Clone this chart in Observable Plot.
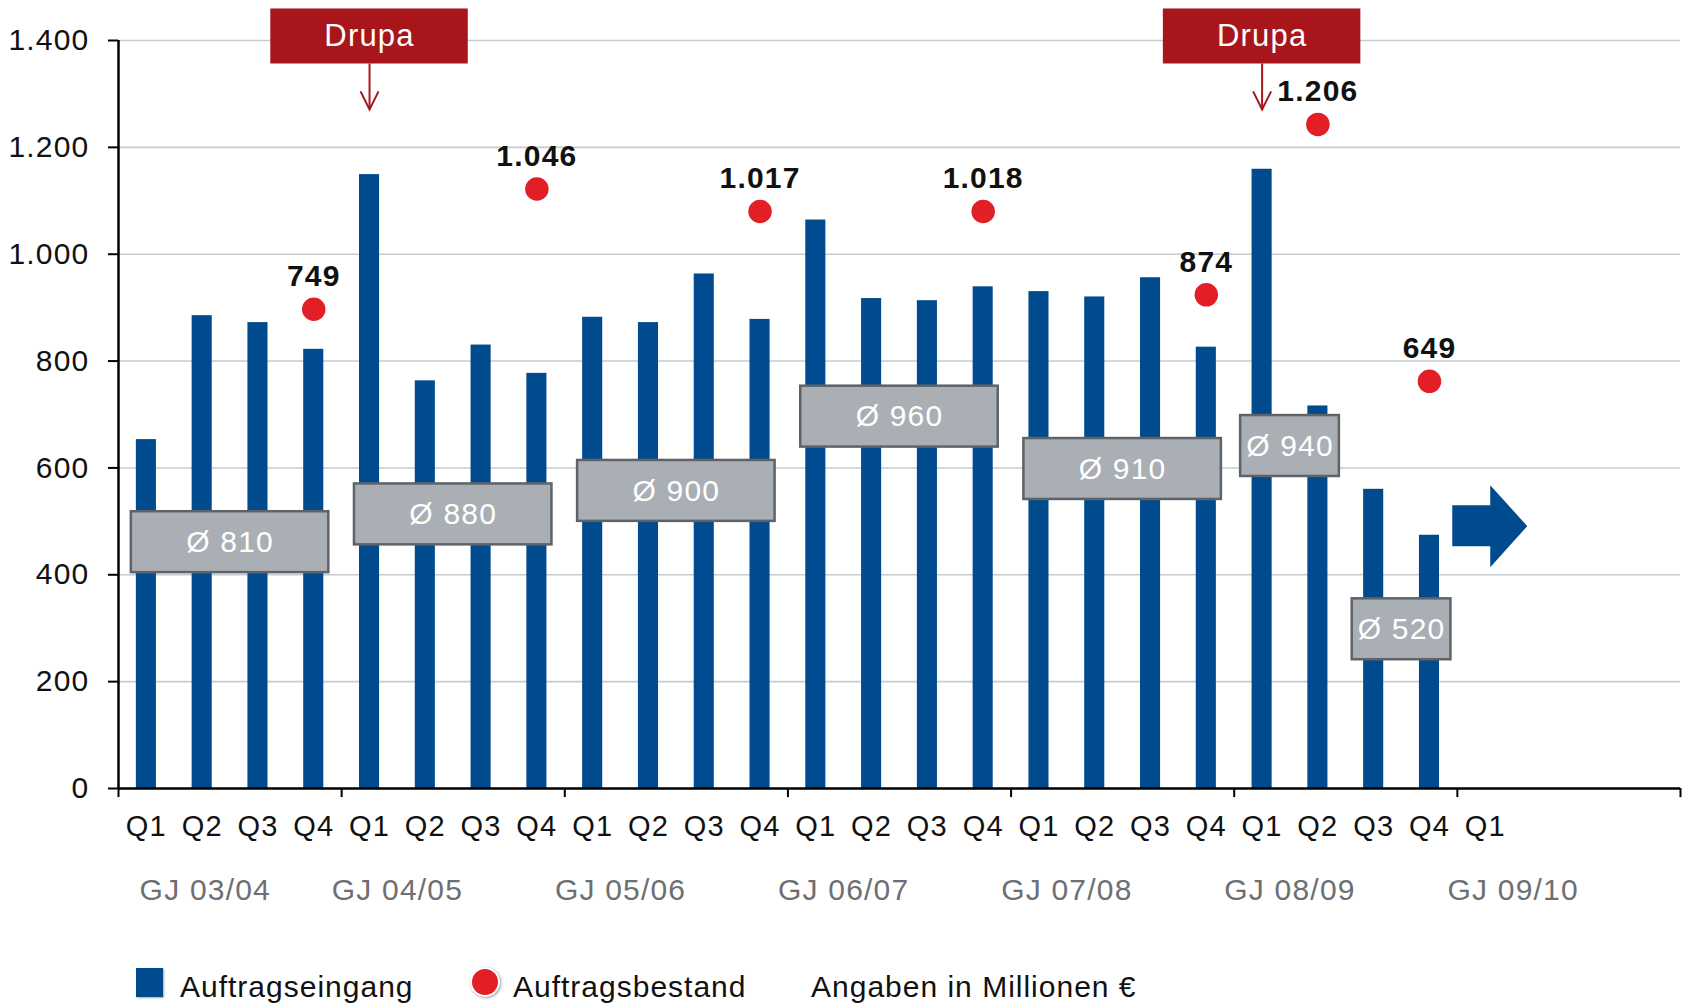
<!DOCTYPE html>
<html>
<head>
<meta charset="utf-8">
<script src="https://cdn.jsdelivr.net/npm/d3@7"></script>
<script src="https://cdn.jsdelivr.net/npm/@observablehq/plot@0.6"></script>
<style>
html, body { margin: 0; padding: 0; background: #fff; }
#wrap { position: relative; width: 1685px; height: 1003px; overflow: hidden; font-family: "Liberation Sans", Arial, sans-serif; }
#legend { position: absolute; left: 0; top: 940px; width: 1685px; height: 63px; }
.lg { position: absolute; top: 29px; font-size: 30px; line-height: 36px; color: #111; white-space: nowrap; letter-spacing: 1px; }
.sw { position: absolute; }
#chart svg text { letter-spacing: 1.2px; }
</style>
</head>
<body>
<div id="wrap">
  <div id="chart"></div>
  <div id="legend">
    <div class="sw" style="left:136px;top:28px;width:27px;height:29px;background:#004b8d;box-shadow:1px 1px 2px rgba(0,0,0,0.35);"></div>
    <div class="lg" style="left:180px;">Auftragseingang</div>
    <div class="sw" style="left:470px;top:27px;width:26px;height:26px;border-radius:50%;background:#e21f26;border:2px solid #fff;box-shadow:1px 1px 3px rgba(0,0,0,0.4);"></div>
    <div class="lg" style="left:513px;">Auftragsbestand</div>
    <div class="lg" style="left:811px;">Angaben in Millionen €</div>
  </div>
</div>
<script>
// ---------- Daten ----------
const quartale = ["Q1", "Q2", "Q3", "Q4"];
const geschaeftsjahre = ["GJ 03/04", "GJ 04/05", "GJ 05/06", "GJ 06/07", "GJ 07/08", "GJ 08/09", "GJ 09/10"];
// Auftragseingang je Quartal (GJ 03/04 Q1 ... GJ 08/09 Q4), Mio €
const auftragseingang = [653, 885, 872, 822, 1149, 763, 830, 777, 882, 872, 963, 878, 1064, 917, 913, 939, 930, 920, 956, 826, 1159, 716, 560, 474];
// Auftragsbestand: Quartalsindex, ausgewiesener Wert, im Bild dargestellte Höhe
const bestandQuartal = [3, 7, 11, 15, 19, 21, 23];
const bestandWert = [749, 1046, 1017, 1018, 874, 1206, 649];
const bestandHoehe = [897, 1122, 1080, 1080, 924, 1243, 762];
// Durchschnittswerte je Zeitraum (Quartalsindex von/bis) und dargestellte Höhe
const durchschnitt = [810, 880, 900, 960, 910, 940, 520];
const durchschnittVon = [0, 4, 8, 12, 16, 20, 22];
const durchschnittBis = [4, 8, 12, 16, 20, 22, 24];
const durchschnittHoehe = [461, 513, 557, 696, 598, 641, 298];
// Drupa-Messen (Quartalsindex)
const drupaQuartal = [4, 20];
const drupaText = "Drupa";
// Trendpfeil (Quartalsindex, Höhe)
const trendQuartal = [24];
const trendHoehe = [491];
// Achsen
const yTicks = [0, 200, 400, 600, 800, 1000, 1200, 1400];
const anzahlQuartale = 28;
const anzahlLabels = 25;

// ---------- Layout ----------
const BLUE = "#004b8d", RED = "#e21f26", DRUPA = "#a8161b";
const BOX_FILL = "#a9afb4", BOX_STROKE = "#5f6368", GRID = "#c6cbd0";
const drupaY1 = 1356, drupaY2 = 1459, drupaPfeilEnde = 1271;
const boxHalb = 57;

const fmt = d3.formatLocale({decimal: ",", thousands: ".", grouping: [3], currency: ["", " €"]}).format(",");

const bars = auftragseingang.map((v, i) => ({i, v}));
const qLabels = d3.range(anzahlLabels).map(i => ({i, q: quartale[i % 4]}));
const gj = geschaeftsjahre.map((g, k) => ({g, k}));
const bestand = bestandWert.map((w, k) => ({i: bestandQuartal[k], w, h: bestandHoehe[k]}));
const avg = durchschnitt.map((a, k) => ({a, von: durchschnittVon[k], bis: durchschnittBis[k], h: durchschnittHoehe[k]}));
const trend = trendQuartal.map((q, k) => ({q, h: trendHoehe[k]}));

const vSymbol = { draw(ctx) { ctx.moveTo(-9, -18); ctx.lineTo(0, 0); ctx.lineTo(9, -18); } };
const trendSymbol = { draw(ctx) {
  ctx.moveTo(-33, -21); ctx.lineTo(5, -21); ctx.lineTo(5, -41); ctx.lineTo(42, 0);
  ctx.lineTo(5, 41); ctx.lineTo(5, 20); ctx.lineTo(-33, 20); ctx.closePath();
} };

const chart = Plot.plot({
  width: 1685,
  height: 940,
  marginLeft: 118,
  marginRight: 5,
  marginTop: 40,
  marginBottom: 152,
  x: {domain: [0, anzahlQuartale], axis: null},
  y: {domain: [0, 1400], axis: null},
  style: {fontFamily: '"Liberation Sans", Arial, sans-serif', background: "white", overflow: "visible"},
  marks: [
    Plot.ruleY(yTicks.filter(d => d > 0), {stroke: GRID, strokeWidth: 1.6}),
    Plot.rectY(bars, {x1: d => d.i + 0.32, x2: d => d.i + 0.68, y1: 0, y2: "v", fill: BLUE, ariaLabel: "balken"}),
    // Achsen
    Plot.ruleY([0], {stroke: "#000", strokeWidth: 2.5}),
    Plot.ruleX([0], {y1: 0, y2: 1400, stroke: "#000", strokeWidth: 2.5}),
    Plot.ruleY(yTicks, {x1: -0.18, x2: 0, stroke: "#000", strokeWidth: 2}),
    Plot.ruleX(d3.range(0, anzahlQuartale + 1, 4), {y1: 0, y2: -17, stroke: "#000", strokeWidth: 2}),
    Plot.text(yTicks, {x: 0, y: d => d, text: d => fmt(d), textAnchor: "end", dx: -29, fontSize: 30, fill: "#111"}),
    Plot.text(qLabels, {x: d => d.i + 0.5, y: 0, text: "q", dy: 47, lineAnchor: "bottom", fontSize: 29, fill: "#111"}),
    Plot.text(gj.filter(d => d.k === 0), {x: d => d.k * 4 + 1, y: 0, text: "g", dx: 31, dy: 111, lineAnchor: "bottom", fontSize: 30, fill: "#6d6f72"}),
    Plot.text(gj.filter(d => d.k > 0), {x: d => d.k * 4 + 1, y: 0, text: "g", dy: 111, lineAnchor: "bottom", fontSize: 30, fill: "#6d6f72"}),
    // Durchschnittsboxen
    Plot.rect(avg, {
      x1: d => (d.von + d.bis) / 2 - (d.bis - d.von) * 0.4425,
      x2: d => (d.von + d.bis) / 2 + (d.bis - d.von) * 0.4425,
      y1: d => d.h - boxHalb, y2: d => d.h + boxHalb,
      fill: BOX_FILL, stroke: BOX_STROKE, strokeWidth: 2.5, ariaLabel: "boxen"
    }),
    Plot.text(avg, {x: d => (d.von + d.bis) / 2, y: "h", text: d => "Ø " + fmt(d.a), fontSize: 30, fill: "#fff"}),
    // Auftragsbestand
    Plot.dot(bestand, {x: d => d.i + 0.5, y: "h", r: 13, fill: RED, stroke: "#fff", strokeWidth: 2.5, ariaLabel: "punkte"}),
    Plot.text(bestand, {x: d => d.i + 0.5, y: "h", text: d => fmt(d.w), dy: -23, lineAnchor: "bottom", fontSize: 30, fontWeight: "bold", fill: "#111", ariaLabel: "bestandlabels"}),
    // Drupa
    Plot.ruleX(drupaQuartal, {x: d => d + 0.5, y1: drupaY1, y2: drupaPfeilEnde, stroke: DRUPA, strokeWidth: 2}),
    Plot.dot(drupaQuartal, {x: d => d + 0.5, y: drupaPfeilEnde, symbol: vSymbol, r: 10, fill: "none", stroke: DRUPA, strokeWidth: 2}),
    Plot.rect(drupaQuartal, {x1: d => d + 0.5 - 1.77, x2: d => d + 0.5 + 1.77, y1: drupaY1, y2: drupaY2, fill: DRUPA, ariaLabel: "drupa"}),
    Plot.text(drupaQuartal, {x: d => d + 0.5, y: (drupaY1 + drupaY2) / 2, text: () => drupaText, fontSize: 31, fill: "#fff"}),
    // Trendpfeil
    Plot.dot(trend, {x: d => d.q + 0.5, y: "h", symbol: trendSymbol, r: 20, fill: BLUE, stroke: "none", ariaLabel: "trend"})
  ]
});

const shadows = {
  "balken": "drop-shadow(1.5px 0px 1px rgba(0,0,0,0.22))",
  "boxen": "drop-shadow(2px 2px 2px rgba(0,0,0,0.3))",
  "punkte": "drop-shadow(1px 1px 2px rgba(0,0,0,0.35))",
  "drupa": "drop-shadow(2px 2px 2px rgba(0,0,0,0.35))",
  "trend": "drop-shadow(3px 3px 3px rgba(0,0,0,0.3))"
};
for (const [k, f] of Object.entries(shadows)) {
  chart.querySelectorAll(`[aria-label="${k}"]`).forEach(g => g.style.filter = f);
}
chart.querySelectorAll('[aria-label="bestandlabels"] text').forEach(t => t.style.letterSpacing = "1.8px");
document.getElementById("chart").appendChild(chart);
</script>
</body>
</html>
